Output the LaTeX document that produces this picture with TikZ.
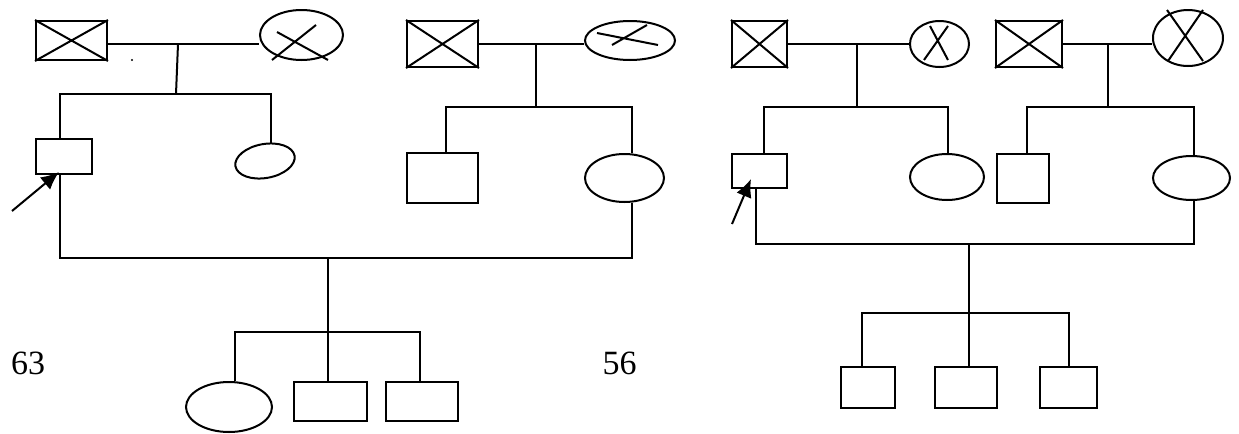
\documentclass[tikz,border=0pt]{standalone}
\usepackage{fontspec}
\setmainfont{Liberation Serif}
\usetikzlibrary{shapes.geometric,arrows.meta}
\begin{document}
\begin{tikzpicture}[x=0.5pt,y=-0.5pt,line width=1pt,
  male/.style={draw,rectangle,inner sep=0pt},
  female/.style={draw,ellipse,inner sep=0pt},
  cross/.style={line width=1pt},
  link/.style={line width=1pt},
  proband/.style={line width=1pt,-{Latex[length=9pt,width=8pt]}},
  tag/.style={inner sep=0pt,font=\fontsize{17}{20}\selectfont}]
\useasboundingbox (0,0) rectangle (1239,434);

% ---------------- left pedigree ----------------
% grandparents, father's side
\node[male,minimum width=35.5pt,minimum height=19.5pt] (A1) at (71.5,40.5) {};
\draw[cross] (A1.north west) -- (A1.south east) (A1.south west) -- (A1.north east);
\node[female,minimum width=41.5pt,minimum height=25pt] (A2) at (301.5,35) {};
\draw[cross] ([shift={(-29.5,25)}]A2.center) -- ([shift={(14.5,-10)}]A2.center)
             ([shift={(-24.5,-3)}]A2.center) -- ([shift={(26.5,25)}]A2.center);
\node[fill,circle,inner sep=0pt,minimum size=1.2pt] (dotA) at (132,60) {};
% their children
\node[male,minimum width=28pt,minimum height=17.5pt] (A3) at (64,156.5) {};
\node[female,minimum width=30pt,minimum height=17pt,rotate=10] (A4) at (265,161) {};

\coordinate (mA) at (178,44);
\coordinate (sA) at (176,94);
\coordinate (kA) at (60,94);
\coordinate (kA2) at (271,94);
\draw[link] (A1.east |- mA) -- (A2.west |- mA);
\draw[link] (mA) -- (sA);
\draw[link] (kA |- A3.north) -- (kA) -- (kA2) -- (kA2 |- A4.north);

% grandparents, mother's side
\node[male,minimum width=35.5pt,minimum height=23pt] (B1) at (442.5,44) {};
\draw[cross] (B1.north west) -- (B1.south east) (B1.south west) -- (B1.north east);
\node[female,minimum width=45pt,minimum height=19.5pt] (B2) at (630,40.5) {};
\draw[cross] ([shift={(-33,-7.5)}]B2.center) -- ([shift={(28,4.5)}]B2.center)
             ([shift={(-18,4.5)}]B2.center) -- ([shift={(17,-15.5)}]B2.center);
\node[male,minimum width=35.5pt,minimum height=25pt] (B3) at (442.5,178) {};
\node[female,minimum width=39.5pt,minimum height=24pt] (B4) at (624.5,178) {};

\coordinate (mB) at (536,44);
\coordinate (sB) at (536,107);
\coordinate (kB) at (446,107);
\coordinate (kB2) at (632,107);
\draw[link] (B1.east |- mB) -- (B2.west |- mB);
\draw[link] (mB) -- (sB);
\draw[link] (kB |- B3.north) -- (kB) -- (kB2) -- (kB2 |- B4.north);

% the couple and their children
\coordinate (hL) at (60,258);
\coordinate (hR) at (632,258);
\coordinate (cA) at (328,258);
\coordinate (sC) at (328,332);
\coordinate (kC1) at (235,332);
\coordinate (kC3) at (420,332);
\draw[link] (A3.south -| hL) -- (hL) -- (hR) -- (B4.south -| hR);
\draw[link] (cA) -- (sC);

\node[female,minimum width=43pt,minimum height=25pt] (C1) at (229,407) {};
\node[male,minimum width=36.5pt,minimum height=19.5pt] (C2) at (330.5,401.5) {};
\node[male,minimum width=36pt,minimum height=19.5pt] (C3) at (422,401.5) {};
\draw[link] (kC1 |- C1.north) -- (kC1) -- (kC3) -- (kC3 |- C3.north);
\draw[link] (sC) -- (sC |- C2.north);

\coordinate (tailA) at (12,211);
\coordinate (tipA) at (59,172);
\draw[proband] (tailA) -- (tipA);

\node[tag] (labA) at (28,363) {63};

% ---------------- right pedigree ----------------
\node[male,minimum width=27.5pt,minimum height=23pt] (D1) at (759.5,44) {};
\draw[cross] (D1.north west) -- (D1.south east) (D1.south west) -- (D1.north east);
\node[female,minimum width=29.5pt,minimum height=23pt] (D2) at (939.5,44) {};
\draw[cross] ([shift={(-15.5,16)}]D2.center) -- ([shift={(8.5,-18)}]D2.center)
             ([shift={(-9.5,-18)}]D2.center) -- ([shift={(8.5,16)}]D2.center);
\node[male,minimum width=27.5pt,minimum height=17pt] (D3) at (759.5,171) {};
\node[female,minimum width=37pt,minimum height=23pt] (D4) at (947,177) {};

\coordinate (mD) at (857,44);
\coordinate (sD) at (857,107);
\coordinate (kD) at (764,107);
\coordinate (kD2) at (948,107);
\draw[link] (D1.east) -- (D2.west);
\draw[link] (mD) -- (sD);
\draw[link] (kD |- D3.north) -- (kD) -- (kD2) -- (kD2 |- D4.north);

\node[male,minimum width=33pt,minimum height=23pt] (E1) at (1029,44) {};
\draw[cross] (E1.north west) -- (E1.south east) (E1.south west) -- (E1.north east);
\node[female,minimum width=35pt,minimum height=28pt] (E2) at (1188,38) {};
\draw[cross] ([shift={(-21,-28)}]E2.center) -- ([shift={(15,23)}]E2.center)
             ([shift={(15,-28)}]E2.center) -- ([shift={(-20,23)}]E2.center);
\node[male,minimum width=26pt,minimum height=24.5pt] (E3) at (1023,178.5) {};
\node[female,minimum width=38.5pt,minimum height=22pt] (E4) at (1191.5,178) {};

\coordinate (mE) at (1108,44);
\coordinate (sE) at (1108,107);
\coordinate (kE) at (1027,107);
\coordinate (kE2) at (1194,107);
\draw[link] (E1.east |- mE) -- (E2.west |- mE);
\draw[link] (mE) -- (sE);
\draw[link] (kE |- E3.north) -- (kE) -- (kE2) -- (kE2 |- E4.north);

\coordinate (hL2) at (756,244);
\coordinate (hR2) at (1194,244);
\coordinate (cF) at (969,244);
\coordinate (sF) at (969,313);
\coordinate (kF1) at (862,313);
\coordinate (kF3) at (1069,313);
\draw[link] (D3.south -| hL2) -- (hL2) -- (hR2) -- (E4.south -| hR2);
\draw[link] (cF) -- (sF);

\node[male,minimum width=27pt,minimum height=20.5pt] (F1) at (868,387.5) {};
\node[male,minimum width=31pt,minimum height=20.5pt] (F2) at (966,387.5) {};
\node[male,minimum width=28.5pt,minimum height=20.5pt] (F3) at (1068.5,387.5) {};
\draw[link] (kF1 |- F1.north) -- (kF1) -- (kF3) -- (kF3 |- F3.north);
\draw[link] (sF) -- (sF |- F2.north);

\coordinate (tailD) at (732,224);
\coordinate (tipD) at (751,179);
\draw[proband] (tailD) -- (tipD);

\node[tag] (labD) at (619.5,363) {56};
\end{tikzpicture}
\end{document}
